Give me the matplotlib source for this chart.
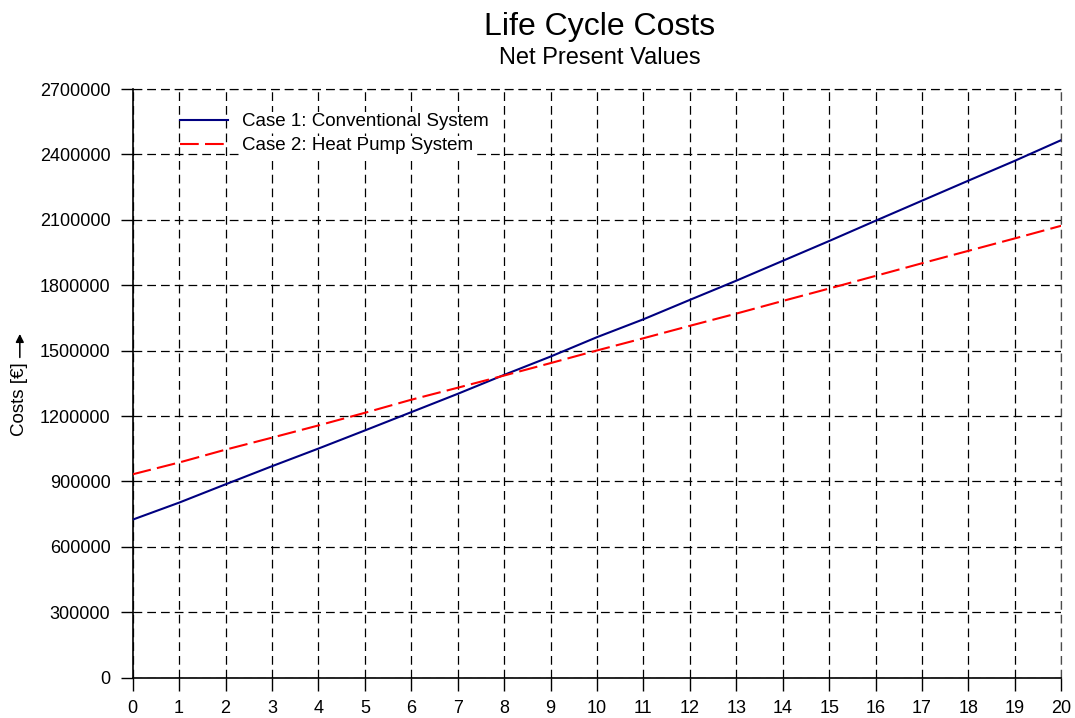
import matplotlib
matplotlib.use("Agg")
import matplotlib.pyplot as plt

plt.rcParams['font.family'] = ['Liberation Sans', 'DejaVu Sans']

# Jahre und Barwerte (in Euro)
years = list(range(0, 21))
case1_conventional = [725000, 803000, 887000, 970000, 1051000, 1134000, 1218000,
                      1302000, 1389000, 1473000, 1562000, 1644000, 1733000, 1821000,
                      1912000, 2003000, 2096000, 2188000, 2280000, 2371000, 2466000]
case2_heatpump = [933000, 987000, 1046000, 1101000, 1157000, 1215000, 1275000,
                  1330000, 1386000, 1443000, 1501000, 1557000, 1614000, 1670000,
                  1728000, 1785000, 1843000, 1901000, 1958000, 2015000, 2073000]
yticks = list(range(0, 2700001, 300000))

fig = plt.figure(figsize=(10.75, 7.18), dpi=100)
ax = fig.add_axes([0.1234, 0.0561, 0.8639, 0.8199])

ax.plot(years, case1_conventional, color='#000080', linewidth=1.5,
        label='Case 1: Conventional System', zorder=3)
ax.plot(years, case2_heatpump, color='red', linewidth=1.5, dashes=(9, 3),
        label='Case 2: Heat Pump System', zorder=3)

ax.set_xlim(0, 20)
ax.set_ylim(0, 2700000)
ax.set_xticks(years)
ax.set_yticks(yticks)
ax.set_yticklabels([str(v) for v in yticks])
ax.tick_params(direction='out', length=9, width=1, pad=7, labelsize=13)

# gestricheltes Gitter, oben und rechts als Gitterlinie
ax.grid(True, color='black', linewidth=0.9, dashes=(7, 4))
ax.spines['top'].set_visible(False)
ax.spines['right'].set_visible(False)
ax.axhline(2700000, color='black', linewidth=0.9, dashes=(7, 4), alpha=0.7, clip_on=False)
ax.axvline(20, color='black', linewidth=0.9, dashes=(7, 4), alpha=0.7, clip_on=False)
ax.spines['left'].set_linewidth(1.2)
ax.spines['bottom'].set_linewidth(1.2)

# Achsenbeschriftung mit Pfeil nach oben
ax.text(-0.1128, 0.4734, 'Costs [€]', rotation=90, ha='right', va='center',
        fontsize=13.5, transform=ax.transAxes)
ax.annotate('', xy=(-0.1215, 0.584), xytext=(-0.1215, 0.544),
            xycoords='axes fraction', textcoords='axes fraction',
            arrowprops=dict(arrowstyle='-|>', color='black', lw=1.1,
                            mutation_scale=12, shrinkA=0, shrinkB=0))

leg = ax.legend(loc='upper left', bbox_to_anchor=(0.0326, 0.988), frameon=False,
                fontsize=13.5, handlelength=2.56, handletextpad=0.75, labelspacing=0.38)
for t in leg.get_texts():
    t.set_bbox(dict(facecolor='white', edgecolor='none', pad=1))

fig.text(0.558, 0.962, 'Life Cycle Costs', ha='center', va='center', fontsize=23)
fig.text(0.558, 0.919, 'Net Present Values', ha='center', va='center', fontsize=17)

fig.savefig('out.png', dpi=100)
